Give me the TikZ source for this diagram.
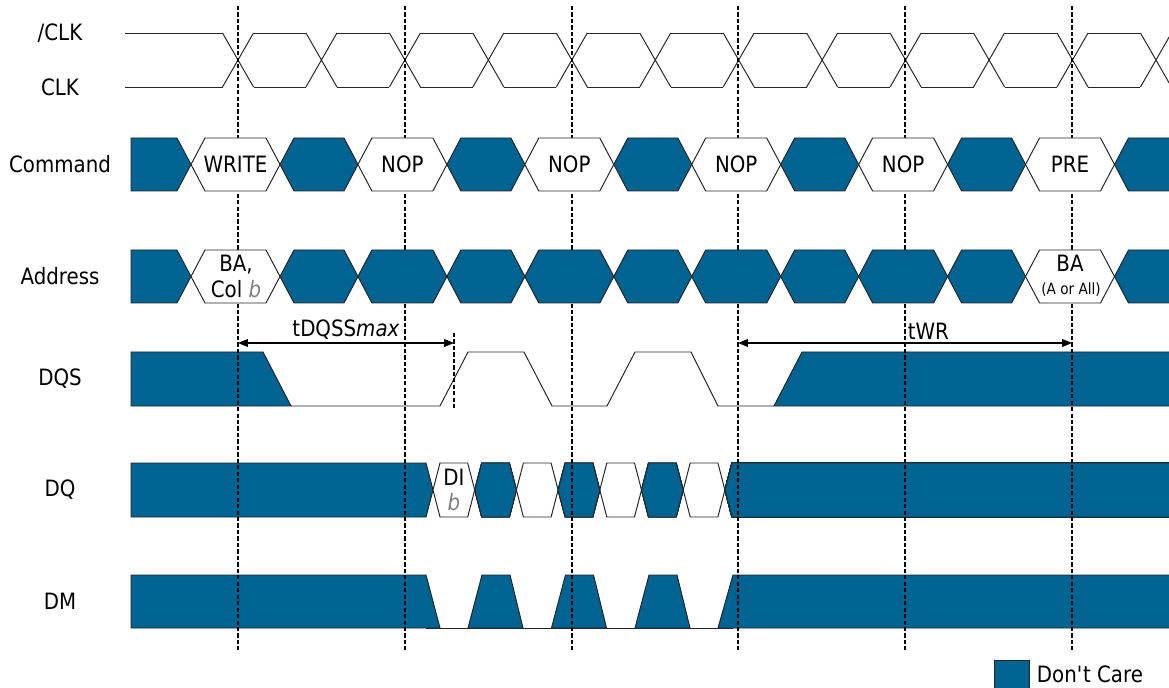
\documentclass[tikz,border=0pt]{standalone}
\usepackage{fontspec}
\setmainfont{DejaVu Sans}[FakeStretch=0.88]
\usetikzlibrary{arrows.meta,positioning}
\definecolor{dcblue}{RGB}{0,99,146}

% bus cell: style, left x, right x, top y, bottom y, slope
\newcommand{\buscell}[6]{%
  \draw[#1] (#2,{(#4+#5)/2}) -- (#2+#6,#4) -- (#3-#6,#4) -- (#3,{(#4+#5)/2})
    -- (#3-#6,#5) -- (#2+#6,#5) -- cycle;}

\begin{document}
\begin{tikzpicture}[x=0.025cm, y=-0.025cm,
            font=\fontsize{16}{19}\selectfont,
            wire/.style={line width=0.7pt, draw=black!85},
            dontcare/.style={fill=dcblue, draw=black!85, line width=0.7pt},
            cell/.style={fill=white, draw=black!85, line width=0.7pt},
            clkmark/.style={line width=1.2pt, dash pattern=on 3pt off 1.6pt},
            timing/.style={line width=0.8pt, {Triangle[length=7pt,width=5.5pt]}-{Triangle[length=7pt,width=5.5pt]}}]

            \useasboundingbox (0,0) rectangle (1169,688);

            % signal names
            \node (nclk) at (60,33) {/CLK};
            \node (clk) at (60,87) {CLK};
            \node (cmd) at (60,164) {Command};
            \node (addr) at (60,276) {Address};
            \node (dqs) at (60,379) {DQS};
            \node (dq) at (60,490) {DQ};
            \node (dm) at (60,601) {DM};

            % clock pair
            \draw[wire] (125,33) -- (222.5,33) (125,87) -- (222.5,87);
            \foreach \k in {0,...,11}
            {
                \pgfmathsetmacro{\cx}{238+83.45*\k}
                \draw[wire] (\cx-15.5,33) -- (\cx+15.5,87) (\cx-15.5,87) -- (\cx+15.5,33);
                \draw[wire] (\cx+15.5,33) -- (\cx+67.95,33) (\cx+15.5,87) -- (\cx+67.95,87);
            }

            % DQS
            \draw[dontcare] (131,352) -- (263,352) -- (291,406) -- (131,406) -- cycle;
            \draw[wire] (291,406) -- (440,406) -- (468,352) -- (524,352) -- (552,406)
                -- (607,406) -- (635,352) -- (691,352) -- (718,406) -- (774,406);
            \draw[dontcare] (774,406) -- (802,352) -- (1175,352) -- (1175,406) -- cycle;

            % DQ
            \draw[dontcare] (131,463) -- (426,463) -- (433,490) -- (426,517) -- (131,517) -- cycle;
            \foreach \x in {433,516.4,599.8,683.2}
                \buscell{cell}{\x}{\x+41.7}{463}{517}{7}
            \foreach \x in {474.7,558.1,641.5}
                \buscell{dontcare}{\x}{\x+41.7}{463}{517}{7}
            \draw[dontcare] (724.9,490) -- (731.9,463) -- (1175,463) -- (1175,517) -- (731.9,517) -- cycle;
            \node (di) at (454,477) {DI};
            \node (dib) at (454,502) {\textcolor{gray}{\itshape b}};

            % DM
            \draw[wire] (426,628) -- (733,628);
            \draw[dontcare] (131,575) -- (426,575) -- (440,628) -- (131,628) -- cycle;
            \foreach \x in {468,551.5,635}
                \draw[dontcare] (\x,628) -- (\x+14,575) -- (\x+42,575) -- (\x+55,628) -- cycle;
            \draw[dontcare] (718,628) -- (733,575) -- (1175,575) -- (1175,628) -- cycle;

            % clock edges
            \foreach \x in {238,405,572,738,905,1072}
                \draw[clkmark] (\x,6) -- (\x,650);
            \draw[clkmark] (454,333) -- (454,408);

            % Command
            \draw[dontcare] (131,138) -- (177,138) -- (191,164.5) -- (177,191) -- (131,191) -- cycle;
            \foreach \k/\txt in {0/WRITE,1/NOP,2/NOP,3/NOP,4/NOP,5/PRE}
            {
                \pgfmathsetmacro{\cx}{238+166.9*\k}
                \buscell{cell}{\cx-47}{\cx+42}{138}{191}{14}
                \buscell{dontcare}{\cx+42}{\cx+120}{138}{191}{14}
                \node (op\k) at (\cx-2.5,164.5) {\txt};
            }

            % Address
            \draw[dontcare] (131,250) -- (177,250) -- (191,276.5) -- (177,303) -- (131,303) -- cycle;
            \foreach \k in {0,...,5}
            {
                \pgfmathsetmacro{\cx}{238+166.9*\k}
                \buscell{dontcare}{\cx+42}{\cx+120}{250}{303}{14}
            }
            \foreach \k in {1,...,4}
            {
                \pgfmathsetmacro{\cx}{238+166.9*\k}
                \buscell{dontcare}{\cx-47}{\cx+42}{250}{303}{14}
            }
            \buscell{cell}{191}{280}{250}{303}{14}
            \buscell{cell}{1025.5}{1114.5}{250}{303}{14}
            \node[align=center] (bacol) at (236,276.5) {BA,\\Col \textcolor{gray}{\itshape b}};
            \node (ba) at (1070,263) {BA};
            \node (baall) at (1071,290) {\fontsize{11}{13}\selectfont (A or All)};

            % timing parameters
            \coordinate (dqssL) at (238,343);
            \coordinate (dqssR) at (454,343);
            \draw[timing] (dqssL) -- (dqssR) node[midway, above=-1pt] (dqsslbl) {tDQSS\textit{max}};
            \coordinate (twrL) at (738,343);
            \coordinate (twrR) at (1072,343);
            \draw[timing] (twrL) -- (twrR) node[pos=0.57, above=-1pt] (twrlbl) {tWR};

            % legend
            \node[dontcare, minimum width=0.875cm, minimum height=0.75cm, inner sep=0pt, anchor=north west] (legbox) at (994,660) {};
            \node[anchor=west] (legtext) at (1032,674) {Don\textquotesingle t Care};
        \end{tikzpicture}
\end{document}
